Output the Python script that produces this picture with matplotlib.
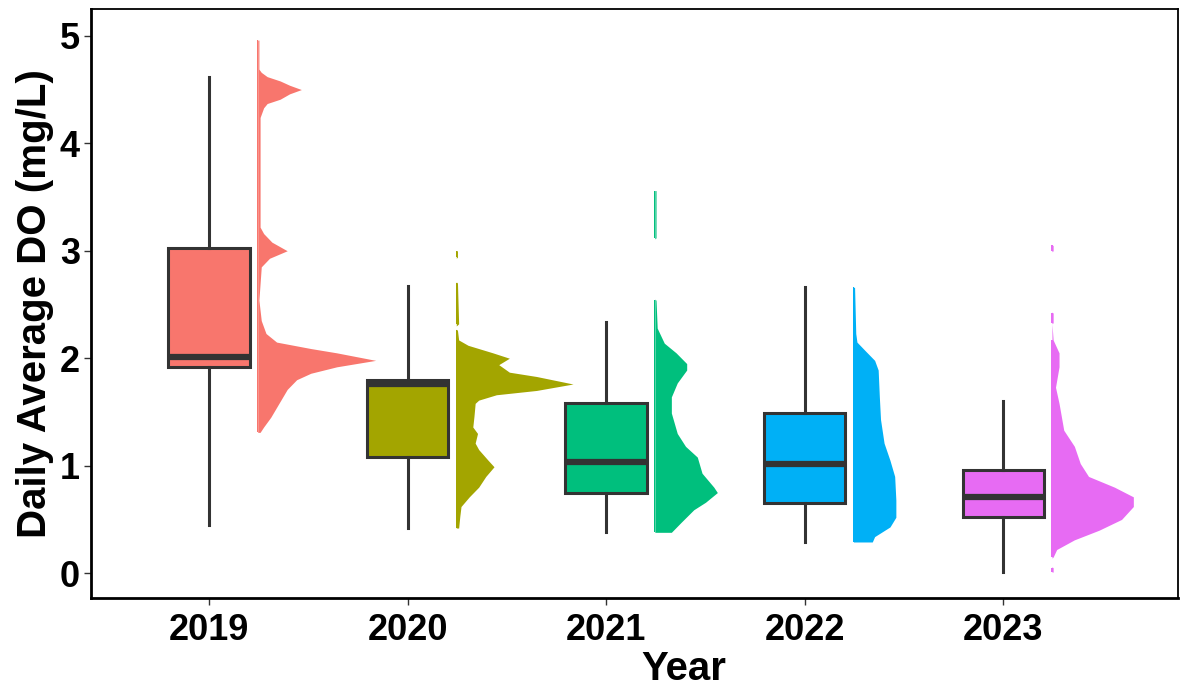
#!/usr/bin/env python3

import numpy as np
import matplotlib
matplotlib.use('Agg')
import matplotlib.pyplot as plt

plt.rcParams['font.family'] = ['Liberation Sans', 'DejaVu Sans']
plt.rcParams['font.weight'] = 'bold'

# categories and colours (ggplot default hue palette)
years = ['2019', '2020', '2021', '2022', '2023']
colors = ['#F8766D', '#A3A500', '#00BF7D', '#00B0F6', '#E76BF3']

# box statistics: lower whisker, Q1, median, Q3, upper whisker
whis_lo = [0.45, 0.42, 0.38, 0.29, 0.01]
q1 = [1.92, 1.08, 0.75, 0.65, 0.52]
median = [2.01, 1.76, 1.03, 1.02, 0.71]
q3 = [3.03, 1.80, 1.58, 1.49, 0.96]
whis_hi = [4.62, 2.67, 2.34, 2.66, 1.60]

# half-violin profiles: DO level (mg/L) and relative density
dens_y_2019 = [4.96, 4.69, 4.66, 4.62, 4.58, 4.54, 4.50, 4.46, 4.41, 4.37, 4.33,
               4.24, 3.75, 3.22, 3.16, 3.08, 3.00, 2.93, 2.85, 2.54, 2.35, 2.23,
               2.15, 2.09, 2.05, 1.98, 1.92, 1.86, 1.80, 1.71, 1.58, 1.45, 1.36,
               1.31]
dens_v_2019 = [0.01, 0.01, 0.03, 0.08, 0.19, 0.27, 0.37, 0.27, 0.19, 0.08, 0.05,
               0.02, 0.02, 0.02, 0.05, 0.12, 0.25, 0.10, 0.03, 0.01, 0.03, 0.07,
               0.16, 0.45, 0.67, 1.00, 0.67, 0.45, 0.33, 0.25, 0.18, 0.11, 0.05,
               0.02]

dens_y_2020 = [3.00, 2.94, 2.93, 2.71, 2.70, 2.32, 2.30, 2.27, 2.26, 2.17, 2.12,
               2.05, 2.00, 1.94, 1.87, 1.83, 1.76, 1.70, 1.66, 1.61, 1.58, 1.46,
               1.36, 1.30, 1.21, 1.15, 1.05, 0.99, 0.90, 0.80, 0.71, 0.62, 0.53,
               0.42]
dens_v_2020 = [0.01, 0.01, 0.00, 0.00, 0.01, 0.02, 0.00, 0.00, 0.01, 0.02, 0.10,
               0.31, 0.45, 0.36, 0.45, 0.68, 0.99, 0.68, 0.34, 0.19, 0.16, 0.15,
               0.14, 0.18, 0.16, 0.19, 0.27, 0.32, 0.25, 0.19, 0.11, 0.04, 0.03,
               0.02]

dens_y_2021 = [3.56, 3.12, 3.11, 2.55, 2.54, 2.28, 2.14, 2.05, 1.95, 1.89, 1.77,
               1.64, 1.49, 1.30, 1.18, 1.08, 0.93, 0.80, 0.75, 0.66, 0.59, 0.47,
               0.38]
dens_v_2021 = [0.01, 0.01, 0.00, 0.00, 0.01, 0.02, 0.08, 0.18, 0.27, 0.27, 0.19,
               0.14, 0.14, 0.19, 0.26, 0.36, 0.40, 0.50, 0.53, 0.43, 0.33, 0.22,
               0.14]

dens_y_2022 = [2.66, 2.23, 2.15, 2.07, 1.98, 1.89, 1.64, 1.43, 1.21, 1.05, 0.90,
               0.68, 0.52, 0.43, 0.34, 0.29]
dens_v_2022 = [0.01, 0.02, 0.03, 0.10, 0.18, 0.21, 0.22, 0.23, 0.26, 0.31, 0.35,
               0.36, 0.36, 0.31, 0.18, 0.16]

dens_y_2023 = [3.05, 3.00, 2.99, 2.43, 2.42, 2.33, 2.32, 2.17, 2.05, 1.92, 1.73,
               1.58, 1.33, 1.18, 1.02, 0.90, 0.80, 0.71, 0.62, 0.50, 0.40, 0.31,
               0.22, 0.15, 0.14, 0.06, 0.05, 0.01]
dens_v_2023 = [0.01, 0.01, 0.00, 0.00, 0.01, 0.01, 0.00, 0.01, 0.06, 0.06, 0.03,
               0.06, 0.10, 0.19, 0.24, 0.31, 0.53, 0.69, 0.69, 0.59, 0.40, 0.19,
               0.04, 0.01, 0.00, 0.00, 0.01, 0.01]

dens_y = [dens_y_2019, dens_y_2020, dens_y_2021, dens_y_2022, dens_y_2023]
dens_v = [dens_v_2019, dens_v_2020, dens_v_2021, dens_v_2022, dens_v_2023]

if __name__ == '__main__':
    fig = plt.figure(figsize=(11.81, 6.88), dpi=100)
    ax = fig.add_axes([0.077, 0.131, 0.9205, 0.856])

    pos = np.arange(1, len(years) + 1)
    nudge = 0.245
    vwidth = 0.594

    # half violins
    for i in range(len(years)):
        y = np.array(dens_y[i])
        d = np.array(dens_v[i])
        base = pos[i] + nudge
        ax.fill_betweenx(y, base, base + d * vwidth, color=colors[i], lw=0)
        # thin line where density is ~0 but data exist
        ax.fill_betweenx(y, base - 0.003, base + 0.003, where=d > 0,
                         color=colors[i], lw=0)

    # boxplots
    stats = []
    for i in range(len(years)):
        stats.append(dict(med=median[i], q1=q1[i], q3=q3[i],
                          whislo=whis_lo[i], whishi=whis_hi[i], fliers=[]))
    bp = ax.bxp(stats, positions=pos, widths=0.41, showcaps=False,
                showfliers=False, patch_artist=True,
                boxprops=dict(edgecolor='#333333', linewidth=2.2),
                whiskerprops=dict(color='#333333', linewidth=2.2),
                medianprops=dict(color='#333333', linewidth=4.5,
                                 solid_capstyle='butt'))
    for patch, c in zip(bp['boxes'], colors):
        patch.set_facecolor(c)

    ax.set_xlim(0.405, 5.88)
    ax.set_ylim(-0.23, 5.25)
    ax.set_xticks(pos)
    ax.set_xticklabels(years)
    ax.set_yticks([0, 1, 2, 3, 4, 5])
    ax.tick_params(axis='both', labelsize=26, length=5, width=1.0,
                   color='#333333', pad=3)
    ax.tick_params(axis='x', pad=6)
    for lab in ax.get_xticklabels() + ax.get_yticklabels():
        lab.set_fontweight('bold')
        lab.set_color('black')

    ax.set_xlabel('Year', fontsize=29, fontweight='bold', labelpad=1)
    ax.xaxis.set_label_coords(0.545, -0.089)
    ax.set_ylabel('Daily Average DO (mg/L)', fontsize=29, fontweight='bold',
                  labelpad=4)

    for side in ['left', 'bottom']:
        ax.spines[side].set_linewidth(2.0)
        ax.spines[side].set_color('black')
    for side in ['top', 'right']:
        ax.spines[side].set_linewidth(1.3)
        ax.spines[side].set_color('black')

    fig.savefig('out.png', dpi=100)
